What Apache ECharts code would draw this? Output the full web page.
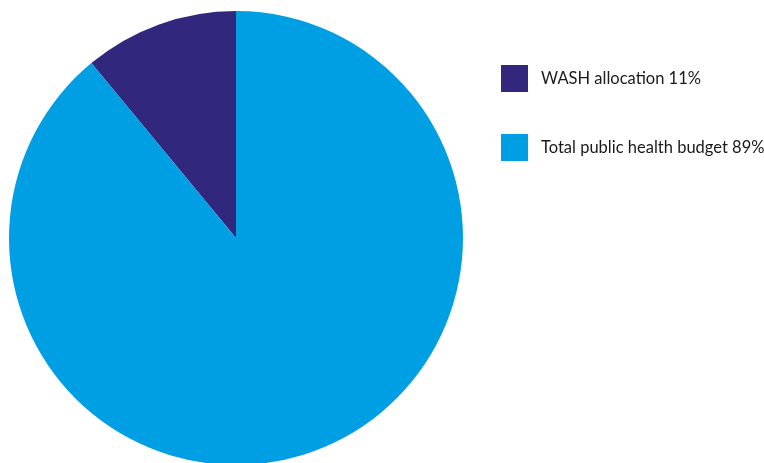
<!DOCTYPE html>
<html>
<head>
<meta charset="utf-8">
<style>
  html, body { margin: 0; padding: 0; background: #ffffff; }
  #chart { width: 764px; height: 463px; }
</style>
<script src="https://cdn.jsdelivr.net/npm/echarts@6/dist/echarts.min.js"></script>
</head>
<body>
<div id="chart"></div>
<script>
// Budget shares (percent)
const categories = ['WASH allocation', 'Total public health budget'];
const shares = [11, 89];
const colors = ['#31287D', '#009FE3'];

const chart = echarts.init(document.getElementById('chart'));

const pieData = categories.map((name, i) => ({
  name: name,
  value: shares[i],
  itemStyle: { color: colors[i] }
}));

chart.setOption({
  animation: false,
  legend: {
    orient: 'vertical',
    left: 496,
    top: 60,
    itemWidth: 27,
    itemHeight: 27,
    itemGap: 42,
    icon: 'rect',
    data: categories,
    formatter: function (name) {
      const i = categories.indexOf(name);
      return name + ' ' + shares[i] + '%';
    },
    textStyle: {
      fontFamily: 'Lato',
      fontSize: 16.5,
      color: '#1a1a1a',
      padding: [12, 0, 0, 8]
    }
  },
  series: [{
    type: 'pie',
    center: [236, 238],
    radius: [0, 227],
    startAngle: 90,
    clockwise: false,
    label: { show: false },
    labelLine: { show: false },
    emphasis: { disabled: true },
    itemStyle: { borderWidth: 0 },
    data: pieData
  }]
});
</script>
</body>
</html>
